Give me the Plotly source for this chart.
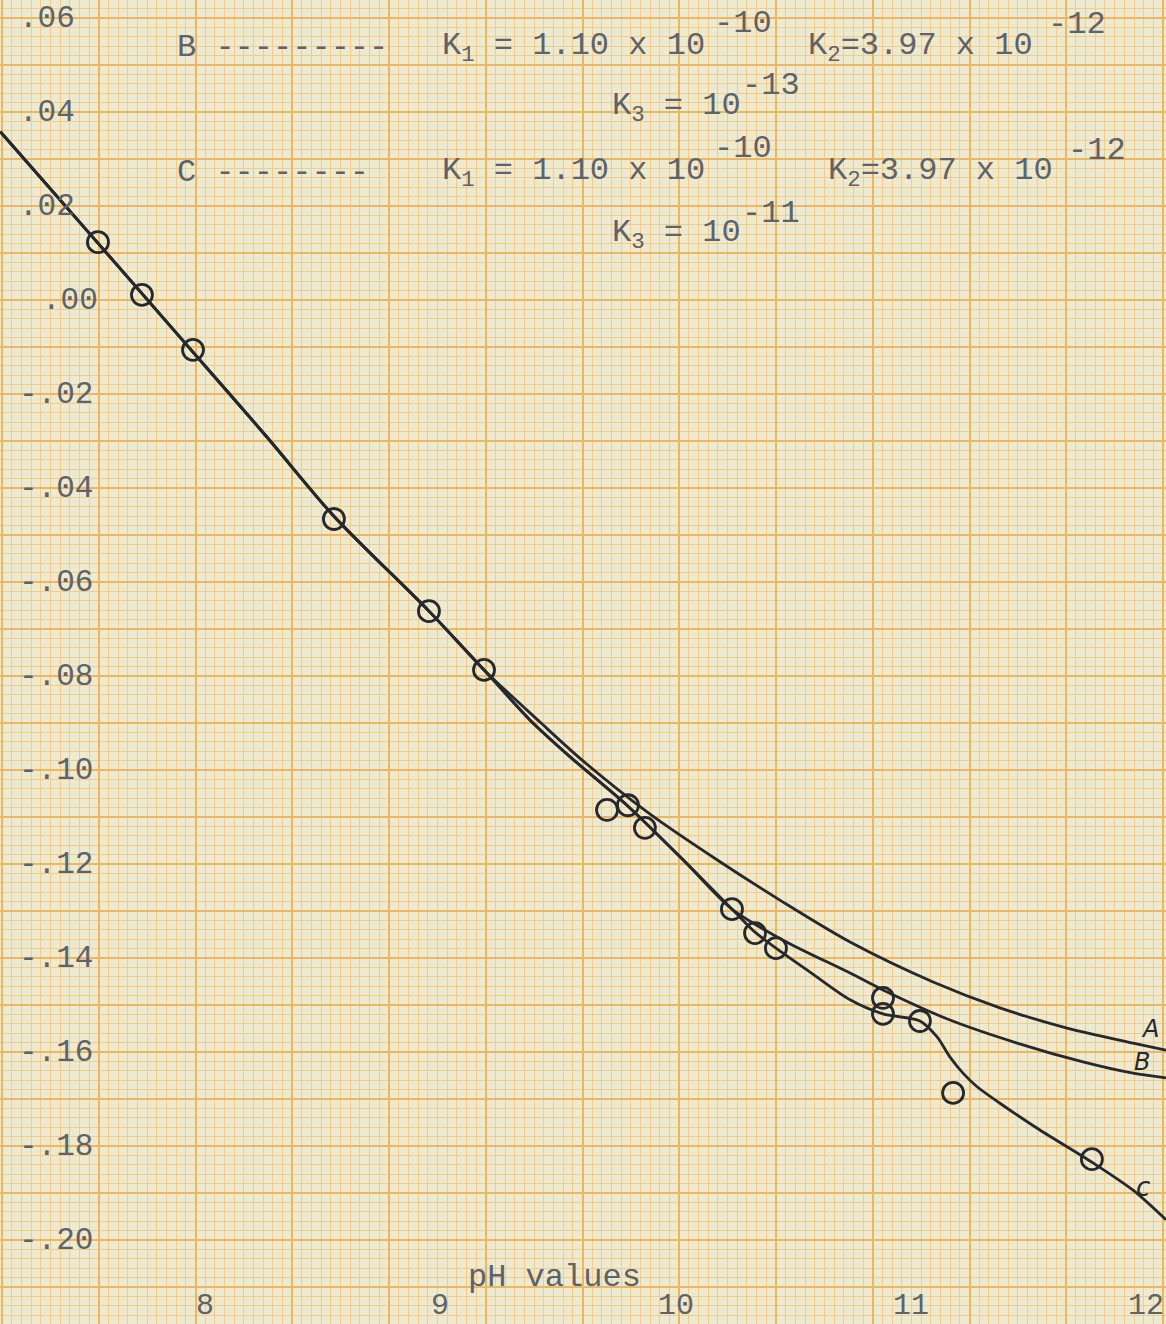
import plotly.graph_objects as go

W, H = 1166, 1324

# ---------------- data ----------------
# shared low-pH part of all three curves
common_ph = [7.13, 7.545, 7.949, 8.264, 8.548, 8.952, 9.186]
common_val = [0.0358, 0.0121, -0.0111, -0.0292, -0.0460, -0.0662, -0.0787]

# curve A
a_ph = common_ph + [9.424, 9.603, 9.892, 10.176, 10.457, 10.742, 11.095, 11.379, 11.664, 11.945, 12.085]
a_val = common_val + [-0.0898, -0.0979, -0.1094, -0.1191, -0.1281, -0.1366, -0.1451, -0.1506, -0.1549, -0.1581, -0.1596]

# part shared by B and C
bc_ph = [9.382, 9.552, 9.798, 10.032, 10.240]
bc_val = [-0.0894, -0.0972, -0.1077, -0.1191, -0.1296]

# curve B
b_ph = common_ph + bc_ph + [10.457, 10.742, 10.882, 11.167, 11.452, 11.732, 11.945, 12.085]
b_val = common_val + bc_val + [-0.1362, -0.1432, -0.1468, -0.1532, -0.1581, -0.1621, -0.1645, -0.1655]

# curve C
c_ph = common_ph + bc_ph + [10.338, 10.427, 10.572, 10.742, 10.882, 11.039, 11.112, 11.167, 11.222,
                            11.282, 11.379, 11.549, 11.775, 11.945, 12.085]
c_val = common_val + bc_val + [-0.1345, -0.1379, -0.1430, -0.1489, -0.1519, -0.1534, -0.1568, -0.1611, -0.1645,
                               -0.1674, -0.1709, -0.1766, -0.1836, -0.1894, -0.1957]

# measured points (open circles)
pts_ph = [7.545, 7.732, 7.949, 8.548, 8.952, 9.186, 9.709, 9.798, 9.870, 10.240, 10.338, 10.427,
          10.882, 10.882, 11.039, 11.180, 11.770]
pts_val = [0.0123, 0.0011, -0.0106, -0.0466, -0.0662, -0.0787, -0.1085, -0.1075, -0.1123, -0.1296,
           -0.1347, -0.1379, -0.1485, -0.1519, -0.1534, -0.1687, -0.1828]

# tick labels
x_tick_vals = [8, 9, 10, 11, 12]
x_tick_text = ["8", "9", "10", "11", "12"]
y_label_vals = [0.06, 0.04, 0.02, 0.00, -0.02, -0.04, -0.06, -0.08, -0.10, -0.12, -0.14, -0.16, -0.18, -0.20]
y_label_text = [".06", ".04", ".02", ".00", "-.02", "-.04", "-.06", "-.08", "-.10", "-.12", "-.14",
                "-.16", "-.18", "-.20"]

# ---------------- styling ----------------
PAPER = "#EDEAD0"
GRID_MAJOR = "#EDB660"
GRID_MINOR = "#F2CC8F"
INK = "#25282F"
TYPE = "#5E6269"
TYPEFONT = "Liberation Mono"

x_range = [7.1286, 12.085]
y_range = [-0.21787, 0.06383]
grid_x0 = 7.1371
grid_dx = 0.41127

fig = go.Figure()

line_style = dict(color=INK, width=2.8, shape="spline", smoothing=0.8)
for name, xs, ys in [("A", a_ph, a_val), ("B", b_ph, b_val), ("C", c_ph, c_val)]:
    fig.add_trace(go.Scatter(x=xs, y=ys, mode="lines", line=line_style, name=name,
                             showlegend=False, hoverinfo="skip"))

fig.add_trace(go.Scatter(x=pts_ph, y=pts_val, mode="markers", showlegend=False,
                         marker=dict(symbol="circle-open", size=21, color=INK,
                                     line=dict(width=2.8, color=INK))))

fig.update_layout(
    width=W, height=H, autosize=False,
    margin=dict(l=0, r=0, t=0, b=0, pad=0),
    paper_bgcolor=PAPER, plot_bgcolor=PAPER,
    showlegend=False,
    xaxis=dict(range=x_range, showline=False, zeroline=False, showticklabels=False, ticks="",
               tickmode="linear", tick0=grid_x0, dtick=grid_dx,
               showgrid=True, gridcolor=GRID_MAJOR, gridwidth=2.4,
               minor=dict(tickmode="linear", tick0=grid_x0, dtick=grid_dx / 10, showgrid=True,
                          gridcolor=GRID_MINOR, gridwidth=1, ticks="")),
    yaxis=dict(range=y_range, showline=False, zeroline=False, ticks="", showticklabels=False,
               tickmode="linear", tick0=0, dtick=0.01,
               showgrid=True, gridcolor=GRID_MAJOR, gridwidth=2.4,
               minor=dict(tickmode="linear", tick0=0, dtick=0.002, showgrid=True,
                          gridcolor=GRID_MINOR, gridwidth=1, ticks="")),
)

def px(x):
    return x / W

def py(y):
    return 1 - y / H

ann = []
def text(x, y, s, size=32, color=TYPE, family=TYPEFONT, xanchor="left"):
    ann.append(dict(x=px(x), y=py(y), xref="paper", yref="paper", text=s, showarrow=False,
                    xanchor=xanchor, yanchor="middle",
                    font=dict(family=family, size=size, color=color)))

# y tick labels (typed on the paper, at value positions)
for v, t in zip(y_label_vals, y_label_text):
    ann.append(dict(x=px(40 if t == ".00" else 17), y=v, xref="paper", yref="y", text=t,
                    showarrow=False, xanchor="left", yanchor="middle",
                    font=dict(family=TYPEFONT, size=31, color=TYPE)))

# x tick labels (at pH positions)
for v, t in zip(x_tick_vals, x_tick_text):
    ann.append(dict(x=v, y=py(1306), xref="x", yref="paper", text=t, showarrow=False,
                    xanchor="center", yanchor="middle",
                    font=dict(family=TYPEFONT, size=30, color=TYPE)))

text(554, 1277, "pH values", xanchor="center")

# constants block
text(175, 47, "B ---------")
text(440, 47, "K<sub>1</sub> = 1.10 x 10")
text(712, 24, "-10")
text(806, 47, "K<sub>2</sub>=3.97 x 10")
text(1046, 25, "-12")
text(610, 108, "K<sub>3</sub> = 10")
text(740, 86, "-13")
text(175, 172, "C --------")
text(440, 172, "K<sub>1</sub> = 1.10 x 10")
text(712, 149, "-10")
text(826, 172, "K<sub>2</sub>=3.97 x 10")
text(1066, 150, "-12")
text(610, 235, "K<sub>3</sub> = 10")
text(740, 213, "-11")

# hand-written curve labels
text(1150, 1029, "<i>A</i>", size=24, color=INK, family="DejaVu Sans", xanchor="center")
text(1142, 1062, "<i>B</i>", size=24, color=INK, family="DejaVu Sans", xanchor="center")
text(1143, 1187, "<i>c</i>", size=26, color=INK, family="DejaVu Sans", xanchor="center")

fig.update_layout(annotations=ann)

fig.write_html("out.html", config={"displayModeBar": False},
               post_script="document.body.style.margin='0';")
